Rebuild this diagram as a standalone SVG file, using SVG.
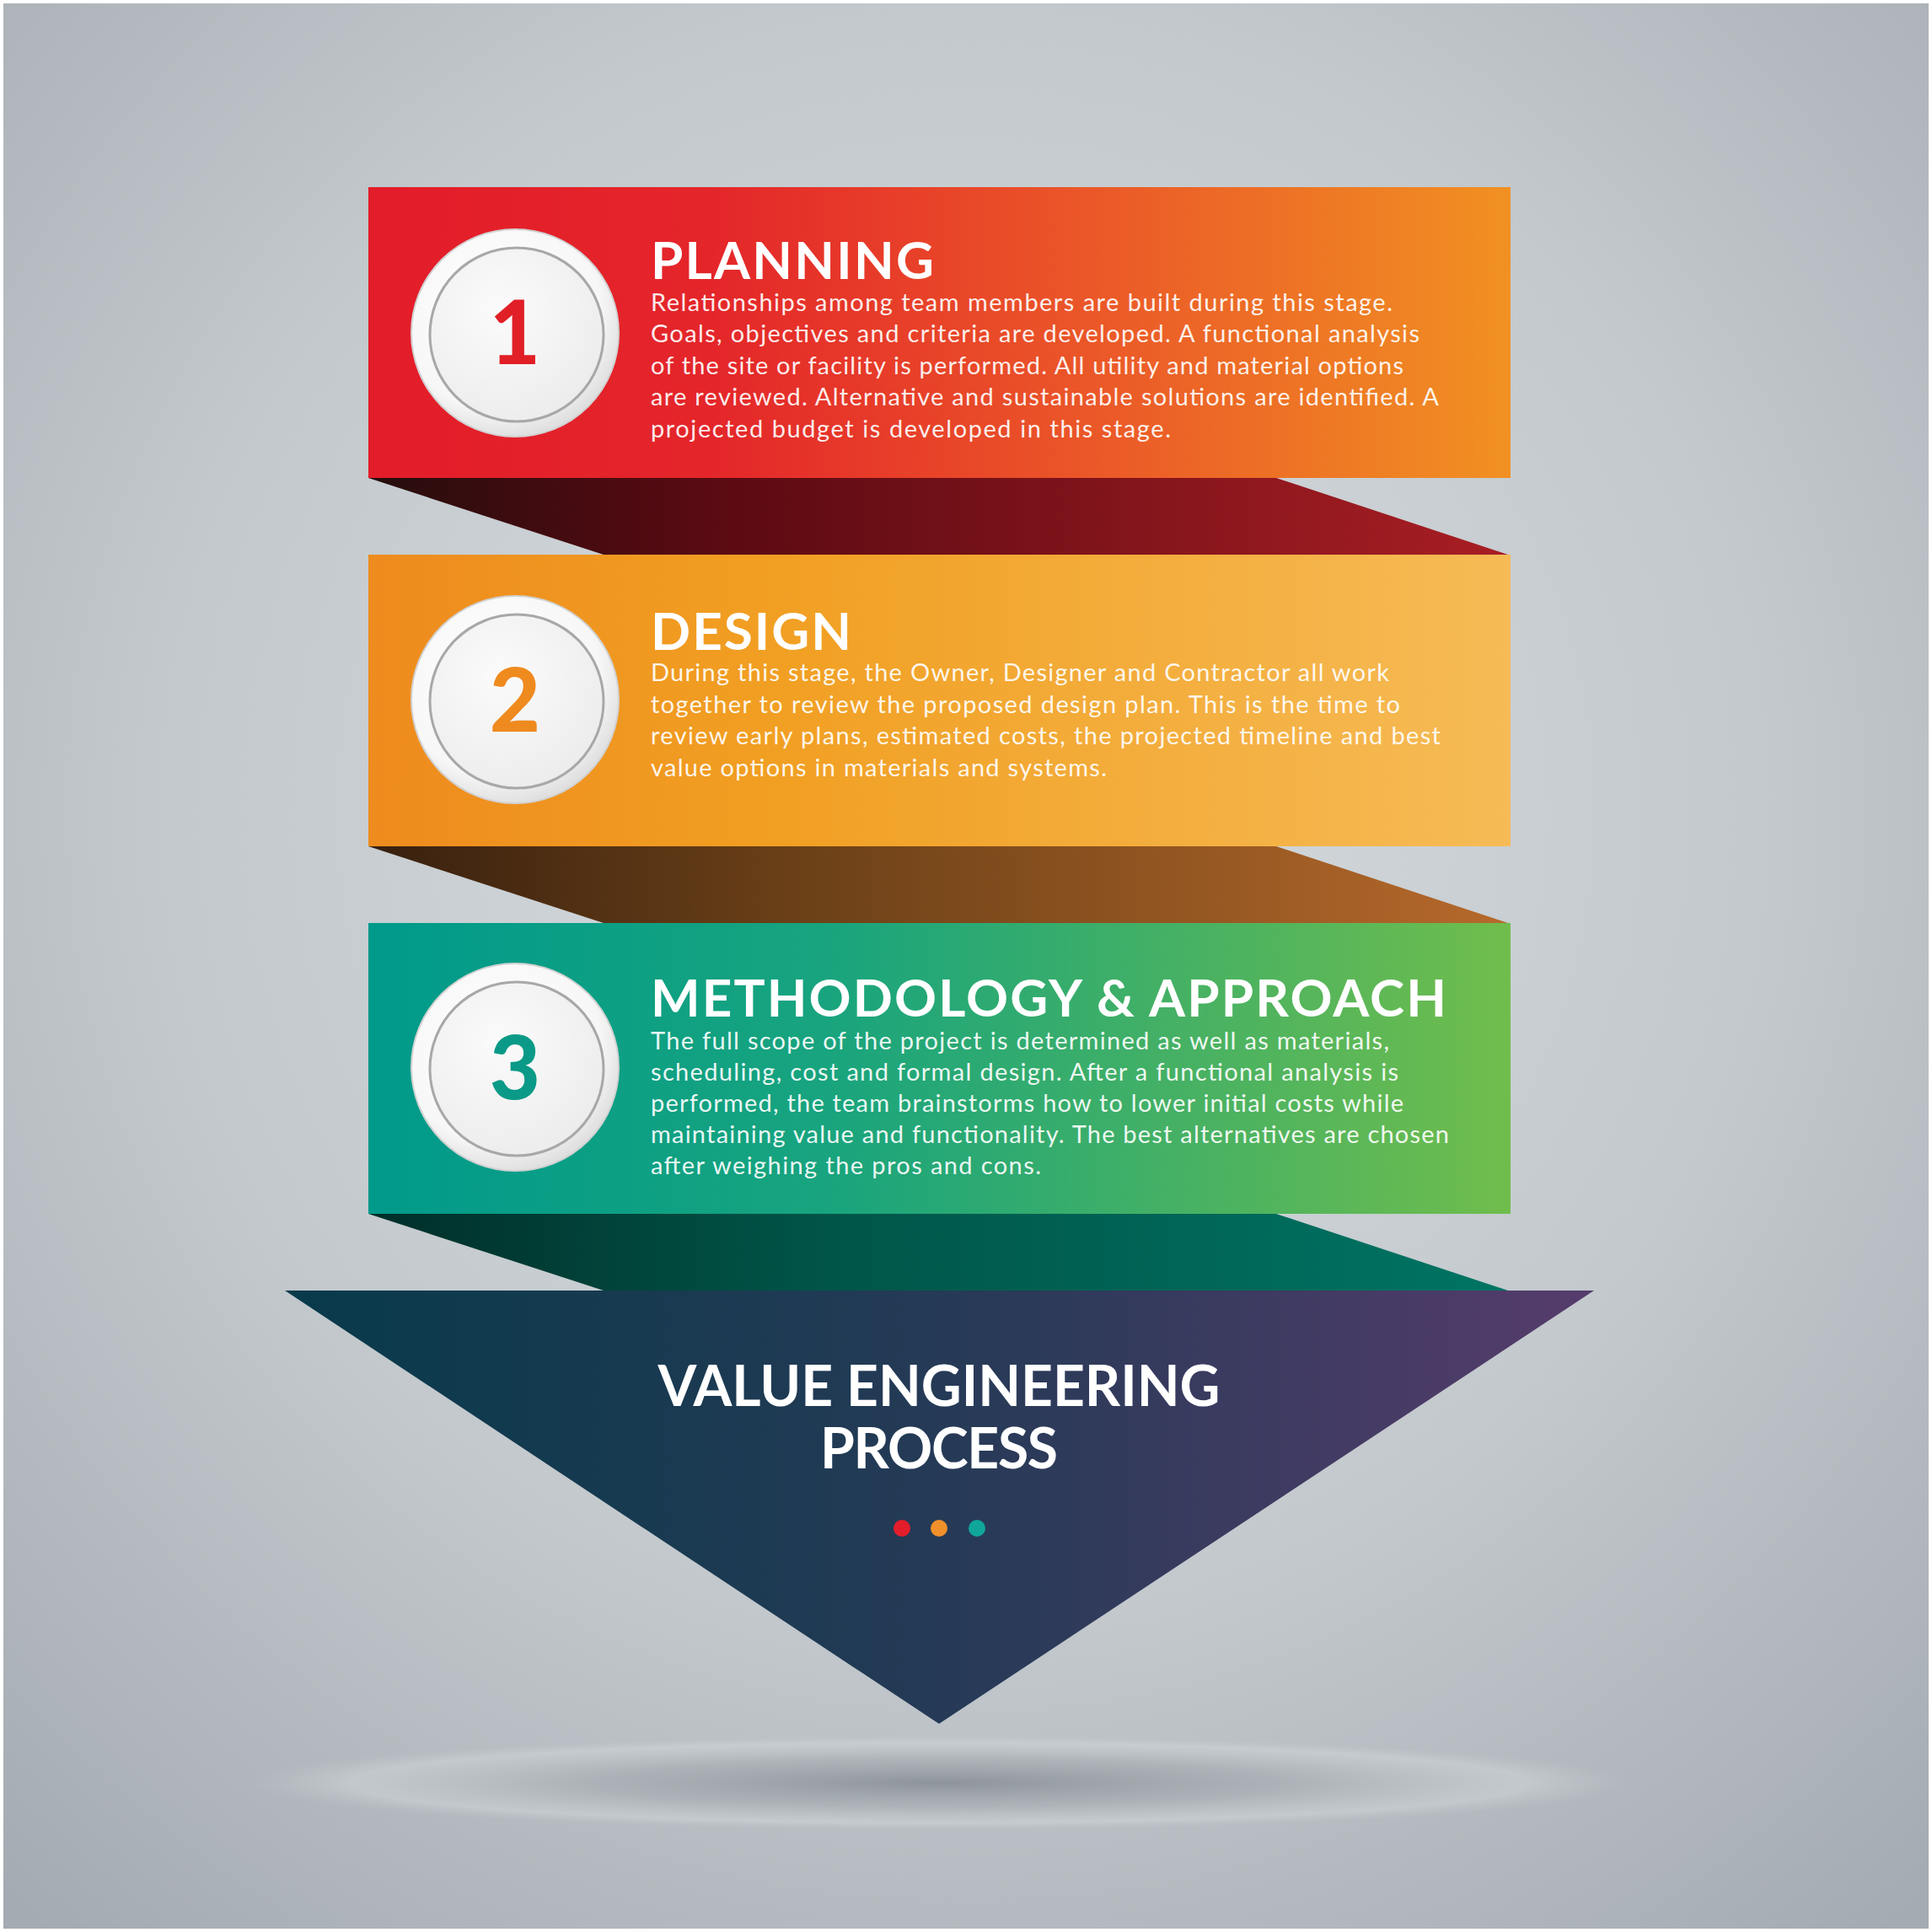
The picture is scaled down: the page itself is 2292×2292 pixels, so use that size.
<svg xmlns="http://www.w3.org/2000/svg" width="2292" height="2292" viewBox="0 0 2292 2292">
<defs>
<radialGradient id="bg" cx="0.5" cy="0.42" r="0.75">
<stop offset="0" stop-color="#d6dcdf"/>
<stop offset="0.55" stop-color="#c3c9cd"/>
<stop offset="1" stop-color="#a4abb2"/>
</radialGradient>
<radialGradient id="floor" cx="0.5" cy="0.5" r="0.5">
<stop offset="0" stop-color="#8a9197" stop-opacity="0.95"/>
<stop offset="0.5" stop-color="#a4abb0" stop-opacity="0.6"/>
<stop offset="0.85" stop-color="#d2d7da" stop-opacity="0.5"/>
<stop offset="1" stop-color="#c5cbcf" stop-opacity="0"/>
</radialGradient>
<linearGradient id="g1" x1="0" y1="0" x2="1" y2="0">
<stop offset="0" stop-color="#e31c2a"/>
<stop offset="0.3" stop-color="#e4262a"/>
<stop offset="0.65" stop-color="#eb5a28"/>
<stop offset="1" stop-color="#f19122"/>
</linearGradient>
<linearGradient id="g2" x1="0" y1="0" x2="1" y2="0">
<stop offset="0" stop-color="#ee8b1e"/>
<stop offset="0.35" stop-color="#f19f22"/>
<stop offset="1" stop-color="#f6bb56"/>
</linearGradient>
<linearGradient id="g3" x1="0" y1="0" x2="1" y2="0">
<stop offset="0" stop-color="#009a8b"/>
<stop offset="0.4" stop-color="#18a47e"/>
<stop offset="1" stop-color="#70bd4c"/>
</linearGradient>
<linearGradient id="s1" x1="0" y1="0" x2="1" y2="0">
<stop offset="0" stop-color="#260d0d"/>
<stop offset="0.3" stop-color="#5a0a12"/>
<stop offset="1" stop-color="#a81e24"/>
</linearGradient>
<linearGradient id="s2" x1="0" y1="0" x2="1" y2="0">
<stop offset="0" stop-color="#38200f"/>
<stop offset="0.4" stop-color="#6e4218"/>
<stop offset="1" stop-color="#b6692b"/>
</linearGradient>
<linearGradient id="s3" x1="0" y1="0" x2="1" y2="0">
<stop offset="0" stop-color="#012e29"/>
<stop offset="0.4" stop-color="#005548"/>
<stop offset="1" stop-color="#007464"/>
</linearGradient>
<linearGradient id="tri" x1="0" y1="0" x2="1" y2="0">
<stop offset="0" stop-color="#083a4b"/>
<stop offset="0.5" stop-color="#253a56"/>
<stop offset="1" stop-color="#563c6c"/>
</linearGradient>
<radialGradient id="disc" cx="0.42" cy="0.38" r="0.65">
<stop offset="0" stop-color="#ffffff"/>
<stop offset="0.75" stop-color="#f7f7f7"/>
<stop offset="1" stop-color="#dcdcdc"/>
</radialGradient>
<radialGradient id="inner" cx="0.4" cy="0.35" r="0.7">
<stop offset="0" stop-color="#fbfbfb"/>
<stop offset="1" stop-color="#ececec"/>
</radialGradient>
</defs>
<style>
.title{font-family:Lato,"Open Sans","Liberation Sans",sans-serif;font-weight:700;font-size:62px;fill:#ffffff}
.body{font-family:Lato,"Open Sans","Liberation Sans",sans-serif;font-weight:400;font-size:29px;fill:#ffffff;fill-opacity:0.92}
.num{font-family:Lato,"Open Sans","Liberation Sans",sans-serif;font-weight:900;font-size:104px;text-anchor:middle}
.head{font-family:Lato,"Open Sans","Liberation Sans",sans-serif;font-weight:700;font-size:66px;fill:#ffffff;text-anchor:middle}
.outer{fill:url(#disc);stroke:#d2d2d2;stroke-width:2}
.ring{fill:url(#inner);stroke:#a8a8a8;stroke-width:3}
</style>
<rect x="0" y="0" width="2292" height="2292" fill="#ffffff"/>
<rect x="4" y="4" width="2284" height="2284" fill="url(#bg)"/>
<ellipse cx="1114" cy="2115" rx="820" ry="56" fill="url(#floor)"/>
<g id="connectors">
<polygon points="437,567 1514,567 1789,658 716,658" fill="url(#s1)"/>
<polygon points="437,1004 1514,1004 1789,1095 716,1095" fill="url(#s2)"/>
<polygon points="437,1440 1514,1440 1789,1531 716,1531" fill="url(#s3)"/>
</g>
<g id="stage-1">
<rect x="437" y="222" width="1355" height="345" fill="url(#g1)"/>
<circle cx="611" cy="395" r="123" class="outer"/>
<circle cx="613" cy="397" r="103" class="ring"/>
<text x="611" y="432" class="num" fill="#e11f26">1</text>
<text x="772" y="331" class="title" textLength="336">PLANNING</text>
<text x="772" y="369" class="body" textLength="880">Relationships among team members are built during this stage.</text>
<text x="772" y="406" class="body" textLength="912">Goals, objectives and criteria are developed. A functional analysis</text>
<text x="772" y="444" class="body" textLength="893">of the site or facility is performed. All utility and material options</text>
<text x="772" y="481" class="body" textLength="935">are reviewed. Alternative and sustainable solutions are identified. A</text>
<text x="772" y="519" class="body" textLength="617">projected budget is developed in this stage.</text>
</g>
<g id="stage-2">
<rect x="437" y="658" width="1355" height="346" fill="url(#g2)"/>
<circle cx="611" cy="830" r="123" class="outer"/>
<circle cx="613" cy="832" r="103" class="ring"/>
<text x="611" y="868" class="num" fill="#ef8a1f">2</text>
<text x="772" y="771" class="title" textLength="238">DESIGN</text>
<text x="772" y="808" class="body" textLength="876">During this stage, the Owner, Designer and Contractor all work</text>
<text x="772" y="846" class="body" textLength="889">together to review the proposed design plan. This is the time to</text>
<text x="772" y="883" class="body" textLength="937">review early plans, estimated costs, the projected timeline and best</text>
<text x="772" y="921" class="body" textLength="541">value options in materials and systems.</text>
</g>
<g id="stage-3">
<rect x="437" y="1095" width="1355" height="345" fill="url(#g3)"/>
<circle cx="611" cy="1266" r="123" class="outer"/>
<circle cx="613" cy="1268" r="103" class="ring"/>
<text x="611" y="1304" class="num" fill="#0a9a87">3</text>
<text x="772" y="1206" class="title" textLength="944">METHODOLOGY &amp; APPROACH</text>
<text x="772" y="1245" class="body" textLength="876">The full scope of the project is determined as well as materials,</text>
<text x="772" y="1282" class="body" textLength="887">scheduling, cost and formal design. After a functional analysis is</text>
<text x="772" y="1319" class="body" textLength="893">performed, the team brainstorms how to lower initial costs while</text>
<text x="772" y="1356" class="body" textLength="947">maintaining value and functionality. The best alternatives are chosen</text>
<text x="772" y="1393" class="body" textLength="463">after weighing the pros and cons.</text>
</g>
<g id="result">
<polygon points="338,1531 1891,1531 1114,2045" fill="url(#tri)"/>
<text x="1114" y="1668" class="head" textLength="667">VALUE ENGINEERING</text>
<text x="1114" y="1742" class="head" textLength="282">PROCESS</text>
<circle cx="1070" cy="1813" r="10" fill="#e31e2a"/>
<circle cx="1114" cy="1813" r="10" fill="#f0902a"/>
<circle cx="1159" cy="1813" r="10" fill="#10a79a"/>
</g>
</svg>
